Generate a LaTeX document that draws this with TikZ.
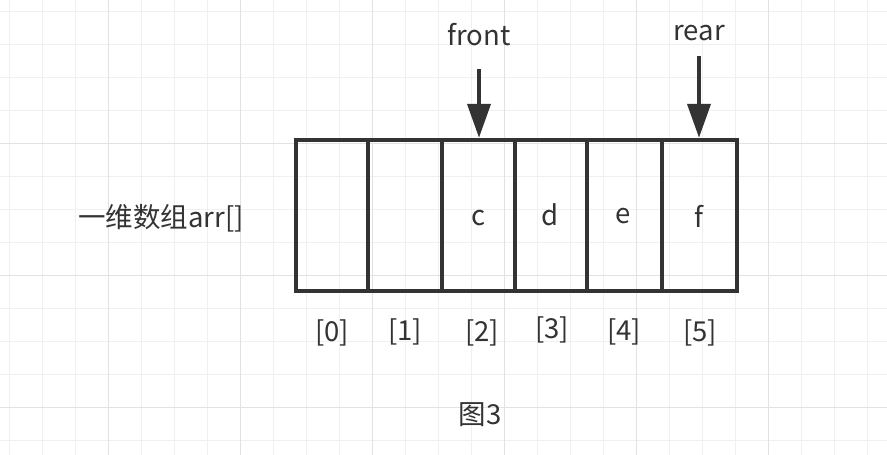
\documentclass[tikz,border=0pt]{standalone}
\usepackage{fontspec}
\setmainfont{Noto Sans CJK SC}
\usetikzlibrary{arrows.meta}
\definecolor{ink}{HTML}{333333}
\definecolor{gridminor}{HTML}{F0F0F0}
\definecolor{gridmajor}{HTML}{E2E2E2}
\tikzset{
  cellbox/.style={draw=ink, line width=4pt, inner sep=0pt, outer sep=0pt, minimum height=150.4pt, anchor=west, text=ink, font=\fontsize{27.5}{32}\selectfont},
  lbl/.style={text=ink, inner sep=0pt, font=\fontsize{27.5}{32}\selectfont},
  ptr/.style={draw=ink, line width=4pt, shorten >=2.5pt, -{Triangle[length=34pt,width=23pt]}}
}
\begin{document}
\begin{tikzpicture}[x=1pt,y=-1pt]
\useasboundingbox (0,0) rectangle (887,455);
\fill[white] (0,0) rectangle (887,455);
% grid
\foreach \i in {0,...,26} {
  \draw[gridminor, line width=1pt] ({9.3+33*\i},0) -- ({9.3+33*\i},455);
}
\foreach \j in {0,...,13} {
  \draw[gridminor, line width=1pt] (0,{11+33*\j}) -- (887,{11+33*\j});
}
\foreach \i in {0,...,5} {
  \draw[gridmajor, line width=1pt] ({108.3+132*\i},0) -- ({108.3+132*\i},455);
}
\foreach \j in {0,...,2} {
  \draw[gridmajor, line width=1pt] (0,{143+132*\j}) -- (887,{143+132*\j});
}
% cells
\node[cellbox, minimum width=72.3pt] (c0) at (296,215.5) {};
\node[cellbox, minimum width=73.7pt] (c1) at (368.3,215.5) {};
\node[cellbox, minimum width=73pt] (c2) at (442,215.5) {};
\node[cellbox, minimum width=71.7pt] (c3) at (515,215.5) {};
\node[cellbox, minimum width=75.6pt] (c4) at (586.7,215.5) {};
\node[cellbox, minimum width=74.4pt] (c5) at (662.3,215.5) {};
\node[lbl] (vc) at (479,218) {c};
\node[lbl] (vd) at (550,215) {d};
\node[lbl] (ve) at (623,216) {e};
\node[lbl] (vf) at (699,216) {f};
% indices
\node[lbl] (i0) at (332,333) {[0]};
\node[lbl] (i1) at (405,332) {[1]};
\node[lbl] (i2) at (482,333) {[2]};
\node[lbl] (i3) at (552,330) {[3]};
\node[lbl] (i4) at (624,332) {[4]};
\node[lbl] (i5) at (700,333) {[5]};
% labels
\node[lbl] (arrname) at (161,218) {一维数组arr[]};
\node[lbl] (cap) at (480,415) {图3};
\node[lbl] (front) at (479,35) {front};
\node[lbl] (rear) at (699,33) {rear};
% pointers
\coordinate (ft) at (479,69);
\coordinate (rt) at (699,56);
\draw[ptr] (ft) -- (c2.north -| ft);
\draw[ptr] (rt) -- (c5.north -| rt);
\end{tikzpicture}
\end{document}
